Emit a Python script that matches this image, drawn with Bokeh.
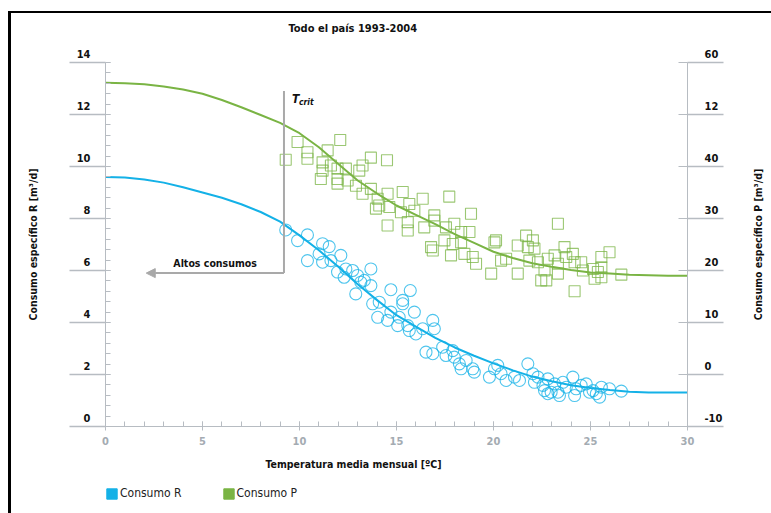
import math
from bokeh.plotting import figure
from bokeh.layouts import column, row
from bokeh.models import (LinearAxis, Range1d, SingleIntervalTicker, Arrow, NormalHead,
                          Label, Legend, LegendItem, Title)
from bokeh.embed import file_html
from bokeh.resources import INLINE

# ---------------- data ----------------
title_text = "Todo el país 1993-2004"
x_title = "Temperatura media mensual [ºC]"
yr_title = "Consumo específico R [m³/d]"
yp_title = "Consumo específico P [m³/d]"
series_names = ["Consumo R", "Consumo P"]

# fitted curves
curve_t = list(range(0, 31))
curve_r = [9.60, 9.58, 9.50, 9.38, 9.20, 9.00, 8.80, 8.55, 8.25, 7.88, 7.35, 6.78, 6.14, 5.47,
           4.86, 4.28, 3.84, 3.41, 3.04, 2.72, 2.43, 2.16, 1.92, 1.74, 1.59, 1.48, 1.40, 1.34,
           1.31, 1.31, 1.31]
curve_p = [56.1, 56.0, 55.8, 55.4, 54.8, 54.0, 52.8, 51.4, 49.9, 48.4, 46.4, 43.7, 40.5, 37.3,
           34.8, 32.5, 30.7, 28.9, 27.0, 25.3, 23.6, 22.4, 21.4, 20.7, 20.1, 19.6, 19.4, 19.2,
           19.1, 19.0, 19.0]

# monthly observations
temp_r = [9.29, 9.9, 10.41, 10.41, 11.19, 11.53, 11.01, 11.19, 11.62, 12.13, 11.96, 12.39, 12.3,
          12.74, 12.99, 13.34, 13.68, 13.16, 12.9, 13.68, 13.77, 14.11, 14.71, 15.32, 15.32, 15.71,
          14.03, 14.54, 14.71, 15.14, 15.92, 15.06, 15.58, 15.66, 16.0, 16.35, 16.87, 16.95, 16.52,
          16.87, 17.38, 17.55, 17.9, 17.98, 18.24, 18.33, 18.59, 19.01, 18.93, 19.79, 20.05, 20.22,
          20.39, 20.65, 21.34, 21.77, 22.03, 22.11, 22.29, 22.55, 22.63, 22.8, 22.97, 23.15, 23.32,
          23.58, 23.75, 24.09, 24.26, 24.18, 24.52, 24.78, 25.13, 25.3, 25.47, 25.56, 25.98, 26.59,
          24.95, 22.8, 23.4, 21.08]
cons_r = [7.56, 7.15, 7.37, 6.38, 7.03, 6.92, 6.64, 6.32, 6.38, 6.58, 5.94, 6.06, 5.74,
          6.0, 5.81, 5.62, 6.06, 5.55, 5.1, 5.42, 4.72, 4.78, 5.26, 4.85, 4.72, 5.23,
          4.2, 4.08, 4.4, 4.2, 4.4, 3.88, 3.88, 3.69, 3.56, 3.76, 4.08, 3.76, 2.86,
          2.8, 3.05, 2.73, 2.92, 2.67, 2.41, 2.22, 2.54, 2.09, 2.22, 1.9, 2.22, 2.35,
          2.03, 1.77, 1.77, 2.41, 2.03, 1.7, 1.9, 1.58, 1.38, 1.83, 1.32, 1.64, 1.32,
          1.7, 1.51, 1.9, 1.45, 1.19, 1.58, 1.64, 1.38, 1.26, 1.13, 1.51, 1.45, 1.36,
          1.32, 1.26, 1.19, 1.9]
temp_p = [9.29, 9.9, 10.41, 10.41, 12.1, 11.45, 11.19, 11.62, 11.19, 11.1, 11.96, 11.96, 11.96,
          12.39, 12.48, 12.91, 13.08, 13.25, 13.68, 14.51, 13.25, 13.68, 14.03, 13.94, 14.11, 14.54,
          14.63, 15.32, 15.23, 15.66, 15.92, 16.35, 14.54, 15.58, 15.58, 16.43, 16.95, 16.95, 17.55,
          17.72, 17.98, 18.33, 18.76, 18.84, 16.78, 16.87, 17.47, 17.81, 17.9, 18.33, 18.5, 18.93,
          19.1, 19.88, 20.05, 20.13, 20.39, 20.65, 21.25, 21.25, 21.68, 21.77, 22.03, 21.85, 22.11,
          22.46, 22.72, 22.63, 22.29, 22.8, 23.15, 23.32, 23.32, 23.66, 23.75, 23.32, 24.09, 24.18,
          24.18, 24.52, 24.61, 25.13, 25.21, 25.56, 25.56, 25.56, 25.98, 26.59, 25.38]
cons_p = [41.3, 44.7, 42.75, 41.5, 45.1, 43.1, 40.8, 40.2, 39.2, 37.6, 39.6, 37.6, 36.7,
          39.6, 37.3, 36.3, 39.2, 40.2, 41.7, 41.2, 34.75, 35.7, 33.8, 31.9, 32.5, 34.75,
          32.2, 35.1, 31.2, 32.8, 31.5, 33.8, 28.65, 27.7, 29.3, 28.3, 30.6, 29.6, 28.3,
          34.2, 29.0, 27.4, 27.4, 30.9, 24.5, 23.85, 25.8, 22.9, 25.1, 25.4, 23.2, 22.6,
          21.3, 19.4, 25.4, 25.8, 21.9, 22.25, 19.4, 24.8, 26.7, 24.5, 25.8, 21.9, 24.2,
          18.1, 18.1, 20.0, 21.6, 22.25, 22.9, 29.0, 21.3, 24.5, 22.6, 19.4, 23.2, 21.6,
          16.0, 21.6, 20.0, 20.3, 18.4, 22.6, 20.6, 18.7, 23.5, 19.2, 19.7]

# right-axis tick label as printed in the source
p_label_overrides = {50: "12"}

# critical temperature annotation
t_crit = 9.2
t_crit_top = 12.9
arrow_level = 5.9
arrow_end = 2.1
arrow_text = "Altos consumos"

# ---------------- styles ----------------
FONT = "DejaVu Sans Condensed"
BLUE = "#14b1e7"
GREEN = "#7ab444"
AXIS_GRAY = "#b7bcc2"
TICK_TXT_GRAY = "#a4abb2"
DARK = "#111111"

TOP, BOTTOM = 49, 53          # space above / below the plotting frame
H_MAIN = 466
W_LEFT, W_MAIN, W_RIGHT = 40, 682, 38

def bare(fig):
    fig.grid.visible = False
    fig.outline_line_color = None
    fig.border_fill_color = "white"
    fig.background_fill_color = "white"

p = figure(width=W_MAIN, height=H_MAIN, output_backend="svg", toolbar_location=None,
           x_range=Range1d(0, 30), y_range=Range1d(0, 14),
           x_axis_location=None, y_axis_location=None,
           min_border_left=54, min_border_right=46, min_border_top=TOP, min_border_bottom=BOTTOM)
p.extra_y_ranges = {"p": Range1d(-10, 60)}
bare(p)

def style_text(ax, size="11px"):
    ax.major_label_text_font = FONT
    ax.major_label_text_font_style = "bold"
    ax.major_label_text_font_size = size

def hide_labels(ax, standoff):
    ax.major_label_text_color = None
    ax.major_label_text_font_size = "1px"
    ax.major_label_standoff = standoff

# x axis
xax = LinearAxis(ticker=SingleIntervalTicker(interval=5, num_minor_ticks=5))
xax.axis_line_color = AXIS_GRAY
xax.major_tick_line_color = AXIS_GRAY
xax.minor_tick_line_color = AXIS_GRAY
xax.major_tick_in = 5
xax.major_tick_out = 4
xax.minor_tick_in = 5
xax.minor_tick_out = 0
style_text(xax)
xax.major_label_text_color = TICK_TXT_GRAY
xax.major_label_standoff = 6
p.add_layout(xax, "below")

# left axis: line + inner ticks
yla = LinearAxis(ticker=SingleIntervalTicker(interval=2, num_minor_ticks=5))
yla.axis_line_color = AXIS_GRAY
yla.major_tick_line_color = AXIS_GRAY
yla.minor_tick_line_color = AXIS_GRAY
yla.major_tick_in = 5
yla.major_tick_out = 0
yla.minor_tick_in = 5
yla.minor_tick_out = 0
hide_labels(yla, 6)
p.add_layout(yla, "left")

# left axis: underlined labels
ylb = LinearAxis(ticker=SingleIntervalTicker(interval=2, num_minor_ticks=0))
ylb.axis_line_color = None
ylb.major_tick_line_color = AXIS_GRAY
ylb.major_tick_line_width = 1.3
ylb.major_tick_in = 0
ylb.major_tick_out = 36
ylb.minor_tick_line_color = None
style_text(ylb)
ylb.major_label_text_color = DARK
ylb.major_label_standoff = -21
ylb.major_label_overrides = {v: f"{v}\n" for v in range(0, 15, 2)}
p.add_layout(ylb, "left")

# right axis: line + inner ticks
yra = LinearAxis(y_range_name="p", ticker=SingleIntervalTicker(interval=10, num_minor_ticks=0))
yra.axis_line_color = AXIS_GRAY
yra.major_tick_line_color = AXIS_GRAY
yra.minor_tick_line_color = None
yra.major_tick_in = 9
yra.major_tick_out = 0
hide_labels(yra, 5)
p.add_layout(yra, "right")

# right axis: underlined labels
yrb = LinearAxis(y_range_name="p", ticker=SingleIntervalTicker(interval=10, num_minor_ticks=0))
yrb.axis_line_color = None
yrb.major_tick_line_color = AXIS_GRAY
yrb.major_tick_line_width = 1.3
yrb.major_tick_in = 0
yrb.major_tick_out = 36
yrb.minor_tick_line_color = None
style_text(yrb)
yrb.major_label_text_color = DARK
yrb.major_label_standoff = -19
ovr = {v: f"{v}\n" for v in range(-10, 61, 10)}
for k, t in p_label_overrides.items():
    ovr[k] = t + "\n"
yrb.major_label_overrides = ovr
p.add_layout(yrb, "right")

# titles
t_top = Title(text=title_text + "\n", align="left", offset=183, standoff=10,
              text_font=FONT, text_font_style="bold", text_font_size="11px",
              text_color=DARK, text_line_height=1.7)
p.add_layout(t_top, "above")
t_bot = Title(text=x_title, align="left", offset=160, standoff=17,
              text_font=FONT, text_font_style="bold", text_font_size="10.5px",
              text_color=DARK)
p.add_layout(t_bot, "below")

# scatter
p.scatter(temp_r, cons_r, marker="circle", size=12, fill_color=None,
          line_color=BLUE, line_alpha=0.75, line_width=1.1)
p.scatter(temp_p, cons_p, marker="square", size=11, fill_color=None,
          line_color=GREEN, line_alpha=0.75, line_width=1.1, y_range_name="p")

# fitted curves
p.line(curve_t, curve_r, line_color=BLUE, line_width=2)
p.line(curve_t, curve_p, line_color=GREEN, line_width=2, y_range_name="p")

# Tcrit annotation
p.segment(x0=[t_crit], y0=[arrow_level], x1=[t_crit], y1=[t_crit_top],
          line_color="#a9a9a9", line_width=2)
p.add_layout(Arrow(end=NormalHead(size=9, fill_color="#a9a9a9", line_color="#a9a9a9"),
                   x_start=t_crit, y_start=arrow_level, x_end=arrow_end, y_end=arrow_level,
                   line_color="#a9a9a9", line_width=2))
p.add_layout(Label(x=(t_crit + arrow_end) / 2, y=arrow_level, y_offset=4, text=arrow_text,
                   text_align="center", text_baseline="bottom",
                   text_font=FONT, text_font_style="bold", text_font_size="10.5px",
                   text_color=DARK))
p.add_layout(Label(x=t_crit, y=t_crit_top, x_offset=8, y_offset=-8, text="T",
                   text_align="left", text_baseline="middle",
                   text_font=FONT, text_font_style="bold italic", text_font_size="12px",
                   text_color=DARK))
p.add_layout(Label(x=t_crit, y=t_crit_top, x_offset=15, y_offset=-11, text="crit",
                   text_align="left", text_baseline="middle",
                   text_font=FONT, text_font_style="bold italic", text_font_size="8.5px",
                   text_color=DARK))

# side strips carrying the vertical axis titles (both read bottom-to-top)
def side_strip(width, text, xpos):
    f = figure(width=width, height=H_MAIN, output_backend="svg", toolbar_location=None,
               x_range=Range1d(0, 1), y_range=Range1d(0, 14),
               x_axis_location=None, y_axis_location=None,
               min_border_left=0, min_border_right=0, min_border_top=TOP,
               min_border_bottom=BOTTOM)
    bare(f)
    f.add_layout(Label(x=xpos, y=7, text=text, angle=math.pi / 2,
                       text_align="center", text_baseline="middle",
                       text_font=FONT, text_font_style="bold", text_font_size="10.5px",
                       text_color=DARK))
    return f

pleft = side_strip(W_LEFT, yr_title, 0.54)
pright = side_strip(W_RIGHT, yp_title, 0.645)

# legend strip below the chart; the swatch proxies sit outside its visible range
pl = figure(width=W_LEFT + W_MAIN + W_RIGHT, height=34, output_backend="svg",
            toolbar_location=None, x_range=Range1d(0, 1), y_range=Range1d(0, 1),
            x_axis_location=None, y_axis_location=None,
            min_border_left=94, min_border_right=0, min_border_top=7, min_border_bottom=0)
bare(pl)
proxy = dict(left=[-3], right=[-2], top=[-2], bottom=[-3])
sw_r = pl.quad(**proxy, fill_color=BLUE, line_color=BLUE)
sw_p = pl.quad(**proxy, fill_color=GREEN, line_color=GREEN)
legend = Legend(items=[LegendItem(label=series_names[0], renderers=[sw_r]),
                       LegendItem(label=series_names[1], renderers=[sw_p])],
                orientation="horizontal", location="top_left",
                glyph_width=13, glyph_height=13, label_standoff=2, spacing=40,
                padding=0, margin=0, border_line_color=None, background_fill_alpha=0,
                label_text_font=FONT, label_text_font_size="12px",
                label_text_color="#222222", label_height=13)
pl.add_layout(legend, "center")

layout = column(row(pleft, p, pright, spacing=0), pl, spacing=0)
layout.styles = {"margin-left": "8px", "margin-top": "11px",
                 "border-left": "3px solid #000", "border-top": "2px solid #000"}
open("out.html", "w").write(file_html(layout, INLINE))
